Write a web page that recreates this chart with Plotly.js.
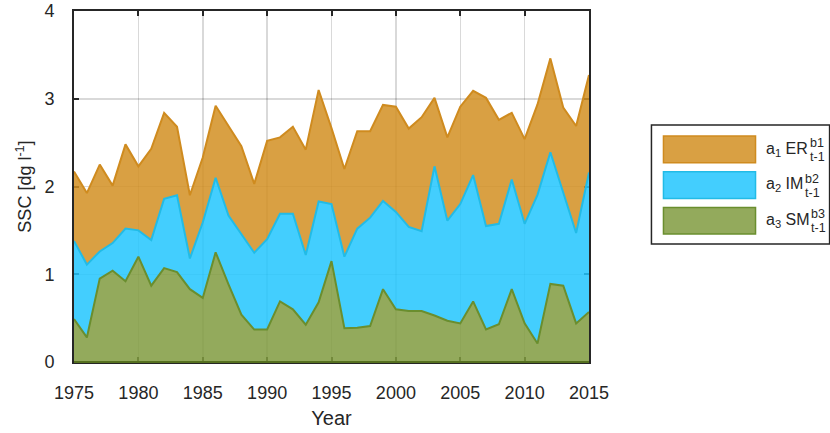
<!DOCTYPE html>
<html>
<head>
<meta charset="utf-8">
<script src="https://cdn.plot.ly/plotly-3.0.1.min.js"></script>
<style>html,body{margin:0;padding:0;background:#fff;}#chart{width:830px;height:433px;}</style>
</head>
<body>
<div id="chart"></div>
<script>
// Years
const years = [1975,1976,1977,1978,1979,1980,1981,1982,1983,1984,1985,1986,1987,1988,1989,1990,1991,1992,1993,1994,1995,1996,1997,1998,1999,2000,2001,2002,2003,2004,2005,2006,2007,2008,2009,2010,2011,2012,2013,2014,2015];
// a3 SM (bottom layer)
const smValues = [0.49,0.28,0.95,1.04,0.92,1.20,0.87,1.07,1.025,0.83,0.73,1.25,0.885,0.54,0.37,0.37,0.69,0.60,0.425,0.68,1.15,0.385,0.39,0.41,0.83,0.60,0.58,0.58,0.53,0.47,0.44,0.69,0.37,0.43,0.83,0.44,0.21,0.89,0.87,0.44,0.57];
// a2 IM (middle layer)
const imValues = [0.89,0.83,0.31,0.315,0.60,0.30,0.52,0.79,0.875,0.35,0.86,0.85,0.785,0.92,0.875,1.03,1.00,1.09,0.795,1.15,0.65,0.815,1.13,1.235,1.005,1.11,0.96,0.91,1.70,1.14,1.36,1.44,1.18,1.145,1.25,1.135,1.695,1.50,1.07,1.03,1.59];
// a1 ER (top layer)
const erValues = [0.79,0.815,0.99,0.655,0.96,0.73,1.04,0.98,0.78,0.72,0.74,0.82,1.02,1.00,0.785,1.12,0.87,0.99,1.20,1.27,0.865,1.00,1.11,0.985,1.095,1.20,1.12,1.30,0.78,0.95,1.11,0.96,1.46,1.185,0.76,0.965,1.03,1.07,0.96,1.22,1.11];
const xTicks = [1975,1980,1985,1990,1995,2000,2005,2010,2015];
const yTicks = [0,1,2,3,4];
const legendMain = ["a<sub>1</sub> ER","a<sub>2</sub> IM","a<sub>3</sub> SM"];
const legendSup = ["b1","b2","b3"];
const legendSub = ["t-1","t-1","t-1"];

const FONT = "Liberation Sans, Arial, Helvetica, sans-serif";
const fillER = "rgba(210,143,34,0.85)", lineER = "#CF8B1F";
const fillIM = "rgba(34,197,254,0.85)", lineIM = "#22BBE6";
const fillSM = "rgba(128,155,63,0.85)", lineSM = "#6A8E2E";

const traces = [
  {x: years, y: smValues, type:"scatter", mode:"lines", stackgroup:"one", fillcolor: fillSM, line:{color: lineSM, width:2}, name:"SM", hoverinfo:"skip"},
  {x: years, y: imValues, type:"scatter", mode:"lines", stackgroup:"one", fillcolor: fillIM, line:{color: lineIM, width:2}, name:"IM", hoverinfo:"skip"},
  {x: years, y: erValues, type:"scatter", mode:"lines", stackgroup:"one", fillcolor: fillER, line:{color: lineER, width:2}, name:"ER", hoverinfo:"skip"}
];

// pixel -> paper helpers (plot area: x 74..588.6, y 11..362)
const L = 74, R = 588.6, T = 11, B = 362;
const px = v => (v - L) / (R - L);
const py = v => (B - v) / (B - T);

const shapes = [
  {type:"line", xref:"paper", yref:"paper", x0:0, x1:1, y0:0, y1:0, line:{color:"#55701f", width:2}},
  {type:"rect", xref:"paper", yref:"paper", x0:px(651), x1:px(829), y0:py(125), y1:py(244), line:{color:"#262626", width:1.5}, fillcolor:"rgba(255,255,255,1)", layer:"above"}
];
const annotations = [];
const fills = [fillER, fillIM, fillSM], lines = [lineER, lineIM, lineSM];
const supX = [807, 802, 808];
for (let i = 0; i < 3; i++) {
  const top = 136 + i * 35.7;
  shapes.push({type:"rect", xref:"paper", yref:"paper", x0:px(663), x1:px(755), y0:py(top), y1:py(top + 26.7), fillcolor: fills[i], line:{color: lines[i], width:1.5}, layer:"above"});
  annotations.push({xref:"paper", yref:"paper", x:px(763), y:py(top + 13), xanchor:"left", yanchor:"middle", showarrow:false, text: legendMain[i], font:{family: FONT, size:16, color:"#262626"}});
  annotations.push({xref:"paper", yref:"paper", x:px(supX[i]), y:py(top + 7), xanchor:"left", yanchor:"middle", showarrow:false, text: legendSup[i], font:{family: FONT, size:12.5, color:"#262626"}});
  annotations.push({xref:"paper", yref:"paper", x:px(supX[i]), y:py(top + 21), xanchor:"left", yanchor:"middle", showarrow:false, text: legendSub[i], font:{family: FONT, size:12.5, color:"#262626"}});
}

const layout = {
  width: 830, height: 433,
  margin: {l: L, r: 830 - R, t: T, b: 433 - B, pad: 0},
  paper_bgcolor: "#fff", plot_bgcolor: "#fff",
  showlegend: false,
  font: {family: FONT, color: "#262626"},
  xaxis: {
    range: [1975, 2015], tickvals: xTicks, ticktext: xTicks.map(String),
    showgrid: true, gridcolor: "rgba(0,0,0,0.15)", gridwidth: 1.5,
    showline: true, linecolor: "#262626", linewidth: 2, mirror: "ticks",
    ticks: "inside", ticklen: 5, tickwidth: 2, tickcolor: "#262626",
    tickfont: {family: FONT, size: 18, color: "#262626"}, ticklabelstandoff: 13,
    zeroline: false, layer: "below traces",
    title: {text: "Year", font: {family: FONT, size: 20, color: "#262626"}, standoff: 9}
  },
  yaxis: {
    range: [0, 4], tickvals: yTicks, ticktext: yTicks.map(String),
    showgrid: true, gridcolor: "rgba(0,0,0,0.15)", gridwidth: 1.5,
    showline: true, linecolor: "#262626", linewidth: 2, mirror: "ticks",
    ticks: "inside", ticklen: 5, tickwidth: 2, tickcolor: "#262626",
    tickfont: {family: FONT, size: 18, color: "#262626"}, ticklabelstandoff: 14,
    zeroline: false, layer: "below traces",
    title: {text: "SSC [dg l<sup>-1</sup>]", font: {family: FONT, size: 18, color: "#262626"}, standoff: 8}
  },
  shapes: shapes,
  annotations: annotations
};

Plotly.newPlot("chart", traces, layout, {displayModeBar: false, staticPlot: true});
</script>
</body>
</html>
